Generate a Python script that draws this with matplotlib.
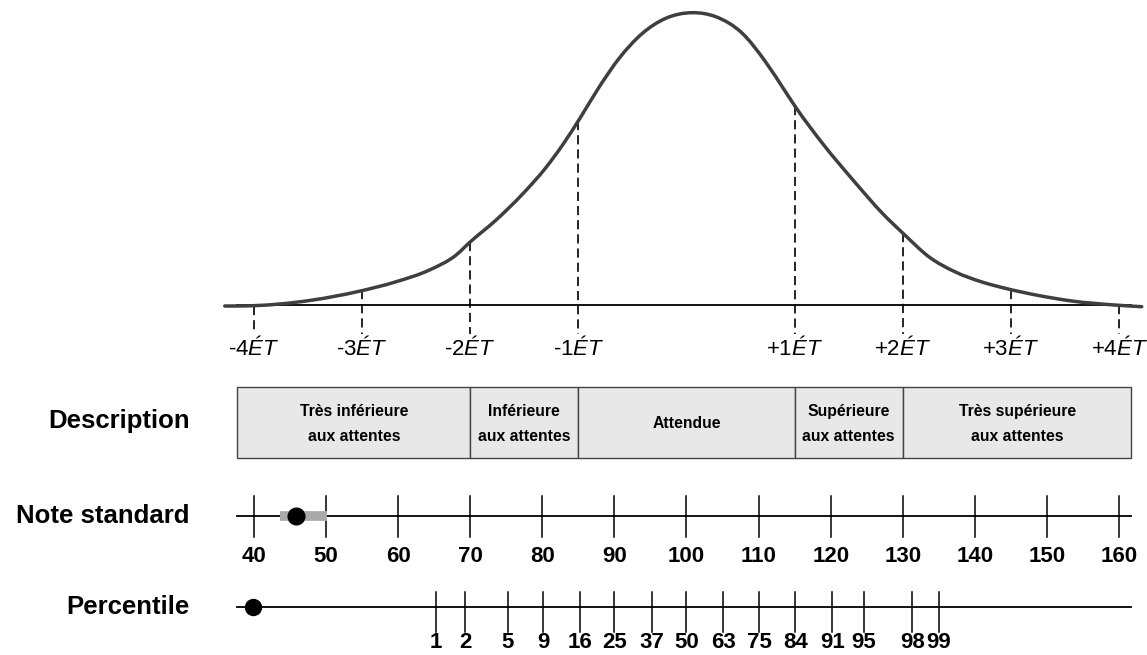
import numpy as np
import matplotlib
matplotlib.use('Agg')
import matplotlib.pyplot as plt
from matplotlib.patches import Rectangle, PathPatch
from matplotlib.path import Path

plt.rcParams['font.family'] = ['Liberation Sans', 'DejaVu Sans']
plt.rcParams['mathtext.fontset'] = 'custom'
plt.rcParams['mathtext.rm'] = 'Liberation Sans'
plt.rcParams['mathtext.it'] = 'Liberation Sans:italic'

# bell curve (x = standard score, y = pixel row)
curve_x = [35.96, 37.58, 39.87, 43.57, 48.19, 54.34, 59.74, 64.35, 68.05, 69.99,
           73.59, 77.27, 80.51, 82.81, 85.22, 87.89, 90.66, 93.89, 97.13, 100.82,
           104.06, 107.74, 110.98, 113.75, 115.22, 118.82, 123.45, 127.13, 130.28,
           133.60, 137.30, 140.98, 144.22, 148.84, 153.45, 159.36, 163.14]
curve_y = [306, 306, 305.7, 304, 300, 291.7, 281.7, 270, 255, 242,
           220, 194, 167.5, 145, 118.3, 87, 58.3, 33.3, 18.3, 12.7,
           16.7, 33.3, 62, 92, 108, 143, 183, 213, 235,
           256.7, 272, 282, 288.3, 295.5, 301, 305, 306.7]

sd_pos = [40, 55, 70, 85, 115, 130, 145, 160]
sd_labels = ['-4', '-3', '-2', '-1', '+1', '+2', '+3', '+4']

desc_edges = [37.7, 70, 85, 115, 130, 161.7]
desc_labels = ['Très inférieure\naux attentes', 'Inférieure\naux attentes', 'Attendue',
               'Supérieure\naux attentes', 'Très supérieure\naux attentes']

std_ticks = [40, 50, 60, 70, 80, 90, 100, 110, 120, 130, 140, 150, 160]
std_score = 45.9
std_band = [43.6, 50.2]

pct_labels = ['1', '2', '5', '9', '16', '25', '37', '50', '63', '75', '84', '91', '95', '98', '99']
pct_pos = [65.2, 69.3, 75.2, 80.1, 85.2, 90.0, 95.2, 100.0, 105.1, 110.1,
           115.1, 120.2, 124.6, 131.3, 135.0]
pct_score = 39.9

line_left, line_right = 37.7, 161.7


def smooth_path(xs, ys):
    # cubic Hermite through the read points, drawn as bezier segments
    xs, ys = np.asarray(xs, float), np.asarray(ys, float)
    m = np.gradient(ys, xs)
    verts = [(xs[0], ys[0])]
    codes = [Path.MOVETO]
    for i in range(len(xs) - 1):
        h = xs[i + 1] - xs[i]
        verts += [(xs[i] + h / 3, ys[i] + m[i] * h / 3),
                  (xs[i + 1] - h / 3, ys[i + 1] - m[i + 1] * h / 3),
                  (xs[i + 1], ys[i + 1])]
        codes += [Path.CURVE4] * 3
    return Path(verts, codes)


fig = plt.figure(figsize=(11.47, 6.55), dpi=100)
ax = fig.add_axes([0, 0, 1, 1])
ax.set_xlim(4.785, 163.87)
ax.set_ylim(655, 0)
ax.axis('off')

# curve part
ax.plot([line_left, line_right], [305, 305], color='black', lw=1.3, zorder=2)
ax.add_patch(PathPatch(smooth_path(curve_x, curve_y), facecolor='none',
                       edgecolor='#3f3f3f', lw=2.5, capstyle='round', zorder=3))
for p, lab in zip(sd_pos, sd_labels):
    top = np.interp(p, curve_x, curve_y)
    ax.plot([p, p], [top, 334], color='black', lw=1.2, dashes=(5.5, 3), zorder=1)
    ax.text(p, 348, lab + r'$\mathit{ÉT}$', ha='center', va='center', fontsize=16)

# description row
for i, lab in enumerate(desc_labels):
    x0, x1 = desc_edges[i], desc_edges[i + 1]
    ax.add_patch(Rectangle((x0, 387), x1 - x0, 71, facecolor='#e8e8e8',
                           edgecolor='#444444', lw=1.0))
    ax.text((x0 + x1) / 2, 424, lab, ha='center', va='center', fontsize=11.3,
            fontweight='bold', linespacing=1.9)
ax.text(31.1, 421, 'Description', ha='right', va='center', fontsize=18.5, fontweight='bold')

# standard score row
y_std = 516
ax.plot([line_left, line_right], [y_std, y_std], color='black', lw=1.3)
for t in std_ticks:
    ax.plot([t, t], [y_std - 20, y_std + 21], color='black', lw=1.1)
    ax.text(t, 556, str(t), ha='center', va='center', fontsize=16, fontweight='bold')
ax.plot(std_band, [y_std, y_std], color='#aaaaaa', lw=7, solid_capstyle='butt', zorder=4)
ax.plot(std_score, y_std, 'o', color='black', ms=12, zorder=5)
ax.text(31.1, 516, 'Note standard', ha='right', va='center', fontsize=18.5, fontweight='bold')

# percentile row
y_pct = 607
ax.plot([line_left, line_right], [y_pct, y_pct], color='black', lw=1.3)
for p, lab in zip(pct_pos, pct_labels):
    ax.plot([p, p], [y_pct - 15, y_pct + 25], color='black', lw=1.1)
    ax.text(p, 642, lab, ha='center', va='center', fontsize=16, fontweight='bold')
ax.plot(pct_score, y_pct, 'o', color='black', ms=11.5, zorder=5)
ax.text(31.1, 607, 'Percentile', ha='right', va='center', fontsize=18.5, fontweight='bold')

fig.savefig('out.png', dpi=100)
plt.close()
